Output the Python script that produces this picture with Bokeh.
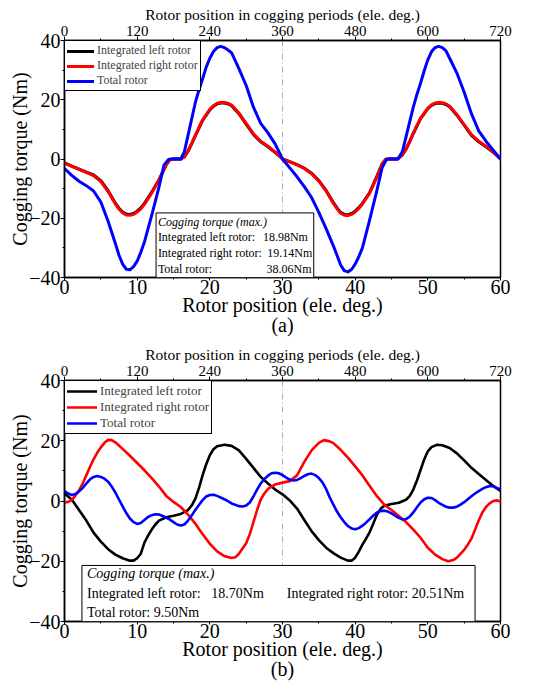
from bokeh.plotting import figure
from bokeh.layouts import column
from bokeh.models import (Range1d, LinearAxis, FixedTicker, Span, BoxAnnotation,
                          Label, Legend, LegendItem)
from bokeh.embed import file_html
from bokeh.resources import INLINE

FONT = "Liberation Serif"

# ---------------- (a) data ----------------
a_x_lr = [0, 1, 2, 3, 4, 5, 6, 7, 7.5, 8, 8.5, 9, 9.5, 10, 10.5, 11, 12, 13, 14, 14.5, 15, 16, 16.5, 17, 17.5, 18,
          19, 20, 20.5, 21, 21.5, 22, 22.5, 23, 24, 25, 26, 27, 28, 29, 30, 31, 32, 33, 34, 35, 36, 37,
          37.5, 38, 38.5, 39, 39.5, 40, 40.5, 41, 42, 43, 43.7, 44.2, 44.6, 45.8, 46.5, 47, 47.5, 48, 49, 50,
          50.5, 51, 51.5, 52, 52.5, 53, 54, 55, 56, 57, 58, 59, 60]
a_right = [-1.4, -2.5, -3.5, -4.5, -5.6, -7.6, -11.0, -15.2, -16.9, -18.2, -18.9, -19.0, -18.7, -17.9, -16.8, -15.3,
           -11.5, -7.2, -2.0, -0.2, 0.0, 0.0, 0.8, 2.8, 5.3, 8.0,
           13.2, 16.8, 18.0, 18.8, 19.1, 19.1, 18.8, 18.2, 15.5, 12.0, 8.5, 6.0, 4.3, 2.3, 0.0,
           -1.0, -2.0, -3.2, -5.0, -7.5, -10.8, -15.0,
           -16.8, -18.3, -19.0, -19.1, -18.7, -17.9, -16.7, -15.2, -11.5, -6.0, -1.8, -0.1, 0.0, 0.0,
           1.5, 3.5, 6.0, 8.8, 13.8, 17.2,
           18.3, 18.9, 19.1, 19.0, 18.6, 17.8, 15.0, 11.6, 8.2, 6.0, 4.3, 2.4, 0.0]
a_left = [-1.3, -2.4, -3.4, -4.4, -5.4, -7.3, -10.7, -14.9, -16.6, -17.9, -18.6, -18.7, -18.4, -17.6, -16.5, -15.0,
          -11.2, -7.0, -1.9, -0.2, 0.0, 0.0, 0.7, 2.6, 5.1, 7.8,
          13.0, 16.6, 17.8, 18.6, 18.9, 18.9, 18.6, 18.0, 15.3, 11.8, 8.3, 5.8, 4.1, 2.2, 0.0,
          -0.9, -1.9, -3.1, -4.8, -7.3, -10.6, -14.7,
          -16.5, -18.0, -18.7, -18.9, -18.4, -17.6, -16.4, -15.0, -11.3, -5.8, -1.7, -0.1, 0.0, 0.0,
          1.4, 3.3, 5.8, 8.6, 13.6, 17.0,
          18.1, 18.7, 18.9, 18.8, 18.4, 17.6, 14.8, 11.4, 8.0, 5.8, 4.1, 2.3, 0.0]

a_x_tot = [0, 1, 2, 3, 4, 5, 6, 7, 7.5, 8, 8.5, 9, 9.5, 10, 10.5, 11, 12, 13, 13.7, 14.3, 14.8, 16, 16.5, 17,
           17.5, 18, 18.5, 19, 19.5, 20, 20.5, 21, 21.5, 22, 22.5, 23, 24, 25, 26, 27, 28, 29, 30,
           31, 32, 33, 34, 35, 36, 37, 37.5, 38, 38.5, 39, 39.5, 40, 40.5, 41, 42, 43, 43.7, 44.3, 44.7, 45.9,
           46.5, 47, 47.5, 48, 48.5, 49, 49.5, 50, 50.5, 51, 51.5, 52, 52.5, 53, 54, 55, 56, 57, 58, 59, 60]
a_total = [-3.2, -5.5, -7.5, -9.0, -10.8, -14.5, -21.0, -28.5, -32.5, -35.5, -37.2, -37.4, -36.3, -34.5, -31.5,
           -28.0, -19.0, -9.5, -2.0, -0.2, 0.0, 0.0, 2.5, 8.0,
           13.5, 19.0, 23.3, 27.0, 31.0, 34.0, 36.3, 37.6, 38.0, 37.6, 36.8, 35.8, 30.5, 24.8, 17.5, 12.0, 8.8, 5.0,
           0.0, -3.0, -6.0, -9.3, -13.0, -18.0, -23.5, -29.3, -32.5, -35.8, -37.7, -38.1, -37.3, -35.5, -33.0,
           -30.0, -20.5, -10.5, -3.0, -0.2, 0.0, 0.0,
           2.5, 7.5, 12.5, 17.5, 21.8, 25.6, 29.8, 33.5, 36.2, 37.6, 38.0, 37.6, 36.5, 34.0, 29.0, 22.5, 15.3,
           9.5, 6.0, 3.0, 0.0]

# ---------------- (b) data ----------------
b_x_left = [0, 1, 2, 3, 4, 5, 6, 7, 8, 9, 9.5, 10, 10.5, 11, 11.5, 12, 12.5, 13, 14, 15, 16, 17, 17.5, 18, 18.5,
            19, 19.5, 20, 20.5, 21, 22, 23, 24, 25, 26, 27, 28, 29, 30, 31, 32, 33, 34, 35, 36, 37, 38, 39, 39.5,
            40, 40.5, 41, 41.5, 42, 42.5, 43, 43.5, 44, 45, 46, 47, 47.5, 48, 48.5, 49, 49.5, 50, 50.5, 51.3, 52,
            53, 54, 55, 56, 57, 58, 59, 60]
b_left = [2.5, 0.5, -3.0, -6.5, -10.5, -13.5, -16.0, -17.8, -19.0, -19.8, -19.8, -19.0, -17.5, -13.8, -11.5, -9.5,
          -7.8, -6.5, -5.4, -4.9, -4.3, -3.0, -1.5, 0.7, 4.3,
          8.5, 12.2, 15.2, 17.2, 18.2, 18.7, 18.3, 16.8, 14.0, 11.0, 8.0, 5.8, 3.8, 2.2, 0.2, -2.5, -6.3, -10.0,
          -13.0, -15.5, -17.3, -18.8, -19.8, -19.8,
          -18.8, -16.8, -14.5, -12.5, -10.3, -7.5, -4.5, -2.6, -1.6, -1.0, -0.6, 0.4, 1.6, 3.8, 6.8, 10.3, 13.8,
          16.5, 17.9, 18.7, 18.5, 17.6, 15.8, 13.5, 11.0, 9.0, 7.0, 5.0, 3.3]

b_x_right = [0, 0.5, 1, 1.5, 2, 2.5, 3, 3.5, 4, 4.5, 5, 5.5, 6, 6.5, 7, 8, 9, 10, 11, 12, 13, 14, 15, 16, 17, 18,
             19, 20, 21, 22, 23, 23.5, 24, 25, 25.5, 26, 26.5, 27, 27.5, 28, 29, 30, 31, 32, 33, 34, 35, 35.7,
             36.5, 37, 38, 39, 40, 41, 42, 43, 44, 45, 46, 47, 48, 49, 50, 51, 52, 52.8, 53.5, 54, 55, 55.5, 56,
             56.5, 57, 57.5, 58, 58.5, 59, 59.5, 60]
b_right = [-0.5, -0.3, 0.3, 1.8, 3.5, 5.8, 8.5, 11.3, 13.8, 16.0, 17.8, 19.3, 20.3, 20.2, 19.5, 17.3, 15.0, 12.6,
           10.2, 7.6, 4.8, 1.7, -0.3, -2.0, -4.5, -7.5,
           -11.0, -14.2, -16.7, -18.3, -18.9, -18.7, -17.5, -14.0, -11.0, -7.0, -3.0, 0.5, 2.5, 4.0, 5.5, 6.1, 6.6,
           8.5, 13.0, 16.8, 19.3, 20.2,
           19.8, 19.2, 17.0, 14.4, 11.5, 8.5, 5.0, 1.6, -1.2, -3.0, -5.0, -7.0, -9.5, -12.2, -15.5, -17.8, -19.3,
           -20.0, -19.6, -18.8, -16.2, -14.5, -12.5,
           -9.5, -6.5, -3.8, -2.0, -0.8, 0.0, 0.2, -0.2]

b_x_tot = [0, 0.5, 1, 1.5, 2, 2.5, 3, 3.5, 4, 4.5, 5, 5.5, 6, 6.5, 7, 7.5, 8, 8.5, 9, 9.5, 10, 10.5, 11, 11.5, 12,
           12.5, 13, 13.5, 14, 14.5, 15, 15.5, 16, 16.5, 17, 17.5, 18, 18.5, 19, 19.5, 20, 20.5, 21, 22, 23, 24,
           24.5, 25, 25.5, 26, 26.5, 27, 27.5, 28, 28.5, 29, 29.5, 30, 30.5, 31, 31.5, 32, 32.5, 33, 33.5, 34,
           34.5, 35, 35.5, 36, 36.5, 37, 37.5, 38, 38.5, 39, 39.5, 40, 40.5, 41, 41.5, 42, 42.5, 43, 43.5, 44,
           44.5, 45, 45.5, 46, 46.5, 47, 47.5, 48, 48.5, 49, 49.5, 50, 50.5, 51, 51.5, 52, 52.5, 53, 53.5, 54,
           54.5, 55, 55.5, 56, 56.5, 57, 57.5, 58, 58.5, 59, 59.5, 60]
b_total = [3.3, 2.5, 2.0, 2.3, 3.2, 4.3, 5.8, 7.2, 8.0, 8.3, 8.0, 7.4, 6.4, 4.8, 2.8, 0.5, -1.8, -4.0, -5.8, -7.0,
           -7.6, -7.3, -6.3, -5.3, -4.7,
           -4.4, -4.5, -5.0, -5.5, -6.2, -7.0, -7.8, -8.1, -7.8, -6.5, -4.8, -3.0, -1.3, 0.3, 1.5, 2.0, 2.1, 1.7,
           0.6, -0.8, -1.7,
           -1.8, -1.5, -0.5, 1.5, 3.8, 5.8, 7.3, 8.4, 9.2, 9.4, 9.2, 8.6, 7.8, 7.1, 6.8, 7.0, 7.6, 8.3, 8.9, 9.1,
           8.6, 7.6, 6.2, 4.0, 1.2, -1.2, -3.5, -5.4, -7.0, -8.3, -9.1, -9.4, -9.0, -8.2, -7.2, -6.0, -4.8, -3.8,
           -3.3, -3.2,
           -3.5, -4.1, -4.9, -5.6, -6.1, -6.0, -5.2, -3.8, -2.1, -0.5, 0.6, 1.1, 1.0, 0.3, -0.6, -1.3, -1.9, -2.2,
           -2.2, -1.9,
           -1.2, -0.4, 0.6, 1.6, 2.5, 3.3, 4.0, 4.6, 5.0, 4.9, 4.3, 3.9]

x_ticks = [0, 10, 20, 30, 40, 50, 60]
x_minor = [5, 15, 25, 35, 45, 55]
y_ticks = [-40, -20, 0, 20, 40]
y_minor = [-30, -10, 10, 30]
top_ticks = [0, 120, 240, 360, 480, 600, 720]
top_minor = [60, 180, 300, 420, 540, 660]

labels = ["Integrated left rotor", "Integrated right rotor", "Total rotor"]
colors = ["black", "red", "blue"]


def style_axis(ax, ticks, minor, label, tick_size, label_size):
    ax.ticker = FixedTicker(ticks=ticks, minor_ticks=minor)
    ax.axis_label = label
    ax.axis_label_text_font = FONT
    ax.axis_label_text_font_style = "normal"
    ax.axis_label_text_font_size = label_size
    ax.axis_label_text_color = "black"
    ax.axis_label_standoff = 0
    ax.major_label_text_font = FONT
    ax.major_label_text_font_size = tick_size
    ax.major_label_text_color = "black"
    ax.major_label_standoff = 1
    ax.major_tick_in = 0
    ax.major_tick_out = 4
    ax.minor_tick_in = 0
    ax.minor_tick_out = 2
    ax.axis_line_color = "black"
    ax.axis_line_width = 1.5
    ax.major_tick_line_color = "black"
    ax.minor_tick_line_color = "black"


def make_fig(height, top, bottom, xs, ys, caption, legend_font, legend_rowh, legend_spacing, glyph_w, lw):
    p = figure(width=546, height=height, x_range=Range1d(0, 60), y_range=Range1d(-40, 40),
               output_backend="svg", toolbar_location=None, x_axis_location=None, y_axis_location=None,
               min_border_left=64, min_border_right=46, min_border_top=top, min_border_bottom=bottom)
    p.xgrid.visible = False
    p.ygrid.visible = False
    p.outline_line_color = "black"
    p.outline_line_width = 1.5
    p.outline_line_alpha = 1.0
    p.background_fill_color = "white"
    p.border_fill_color = "white"
    p.extra_x_ranges = {"top": Range1d(0, 720)}

    bottom_ax = LinearAxis()
    left_ax = LinearAxis()
    top_ax = LinearAxis(x_range_name="top")
    p.add_layout(bottom_ax, "below")
    p.add_layout(left_ax, "left")
    p.add_layout(top_ax, "above")
    style_axis(top_ax, top_ticks, top_minor, "Rotor position in cogging periods (ele. deg.)", "15px", "15.5px")
    style_axis(bottom_ax, x_ticks, x_minor, "Rotor position (ele. deg.)\n" + caption, "20px", "20px")
    style_axis(left_ax, y_ticks, y_minor, "Cogging torque (Nm)", "20px", "20px")
    left_ax.major_label_standoff = 0
    left_ax.axis_label_standoff = -5
    bottom_ax.major_tick_out = 3
    bottom_ax.major_label_standoff = -1
    bottom_ax.axis_label_standoff = -3
    bottom_ax.axis_label_text_line_height = 0.95

    p.add_layout(Span(location=30, dimension="height", line_color="#b0b0b0", line_width=1,
                      line_dash="6 3 1 3", level="underlay"))
    items = []
    for (x, y), lab, c in zip(zip(xs, ys), labels, colors):
        r = p.line(x, y, line_color=c, line_width=lw, line_join="round", line_cap="round")
        items.append(LegendItem(label=lab, renderers=[r]))
    leg = Legend(items=items, location="top_left", margin=0, padding=2,
                 spacing=legend_spacing, label_height=legend_rowh, glyph_height=legend_rowh,
                 glyph_width=glyph_w, label_standoff=3,
                 label_text_font=FONT, label_text_font_size=legend_font,
                 border_line_color="black", border_line_width=1, border_line_alpha=1,
                 background_fill_alpha=1)
    p.add_layout(leg)
    return p


pa = make_fig(340, 40, 63, [a_x_lr, a_x_lr, a_x_tot], [a_left, a_right, a_total], "(a)", "12px", 12, 0, 27, 3)
pa.add_layout(BoxAnnotation(left=12.6, right=34.3, bottom=-40, top=-18.2, fill_color="white", fill_alpha=1,
                            line_color="black", line_width=1, line_alpha=1))
ta = dict(text_font=FONT, text_font_size="12px", text_baseline="middle", text_color="black")
pa.add_layout(Label(x=12.85, y=-21.2, text="Cogging torque (max.)", text_font_style="italic", **ta))
pa.add_layout(Label(x=12.85, y=-26.3, text="Integrated left rotor:", **ta))
pa.add_layout(Label(x=33.5, y=-26.3, text="18.98Nm", text_align="right", **ta))
pa.add_layout(Label(x=12.85, y=-31.6, text="Integrated right rotor:", **ta))
pa.add_layout(Label(x=34.1, y=-31.6, text="19.14Nm", text_align="right", **ta))
pa.add_layout(Label(x=12.85, y=-37.0, text="Total rotor:", **ta))
pa.add_layout(Label(x=34.0, y=-37.0, text="38.06Nm", text_align="right", **ta))

pb = make_fig(352, 40, 71, [b_x_left, b_x_right, b_x_tot], [b_left, b_right, b_total], "(b)", "13px", 14, 0, 30, 2.6)
pb.add_layout(BoxAnnotation(left=2.4, right=56.5, bottom=-40, top=-21.4, fill_color="white", fill_alpha=1,
                            line_color="black", line_width=1, line_alpha=1))
tb = dict(text_font=FONT, text_font_size="14px", text_baseline="middle", text_color="black")
pb.add_layout(Label(x=3.1, y=-24.2, text="Cogging torque (max.)", text_font_style="italic", **tb))
pb.add_layout(Label(x=3.1, y=-30.8, text="Integrated left rotor:", **tb))
pb.add_layout(Label(x=20.2, y=-30.8, text="18.70Nm", **tb))
pb.add_layout(Label(x=30.6, y=-30.8, text="Integrated right rotor: 20.51Nm", **tb))
pb.add_layout(Label(x=3.1, y=-37.1, text="Total rotor: 9.50Nm", **tb))

layout = column(pa, pb, spacing=0)
open("out.html", "w").write(file_html(layout, INLINE))
